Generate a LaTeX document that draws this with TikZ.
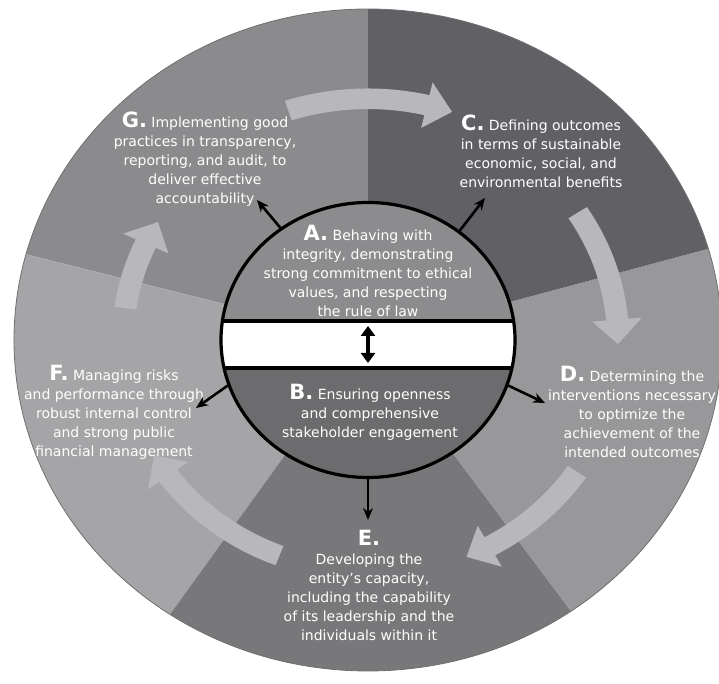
\documentclass[tikz,border=0pt]{standalone}
\usepackage{fontspec}
\setmainfont{DejaVu Sans}
\usepackage{tikz}
\usetikzlibrary{
	positioning,
	arrows.meta,
	shapes.geometric,
	calc
}
\definecolor{RingG}{RGB}{139,139,141}
\definecolor{RingC}{RGB}{97,97,101}
\definecolor{RingD}{RGB}{152,152,154}
\definecolor{RingE}{RGB}{120,120,123}
\definecolor{RingF}{RGB}{165,165,167}
\definecolor{CoreA}{RGB}{140,140,142}
\definecolor{CoreB}{RGB}{108,108,110}
\definecolor{ArrowGrey}{RGB}{184,184,186}
\definecolor{RimGrey}{RGB}{110,110,112}

\newcommand{\bigmark}[1]{{\fontsize{21}{19}\selectfont\bfseries #1.}}

\tikzset{
	blurb/.style={
		text=white,
		align=center,
		inner sep=0pt,
		font=\fontsize{14}{19}\selectfont
	},
	spoke/.style={
		-{Stealth[length=12pt,width=10pt]},
		line width=2.6pt,
		black
	},
	flowarrow/.style={
		fill=ArrowGrey
	}
}

\begin{document}
\begin{tikzpicture}[x=1pt,y=1pt]
				
				\useasboundingbox (0,0) rectangle (719,684);
				
				% outer ring, one shade per principle
				\begin{scope}[shift={(368,344)},yscale=0.935]
				\fill[RingG] (0,0) -- (90:354) arc[start angle=90,end angle=165,radius=354] -- cycle;
				\fill[RingF] (0,0) -- (165:354) arc[start angle=165,end angle=236,radius=354] -- cycle;
				\fill[RingE] (0,0) -- (236:354) arc[start angle=236,end angle=305,radius=354] -- cycle;
				\fill[RingD] (0,0) -- (-55:354) arc[start angle=-55,end angle=16,radius=354] -- cycle;
				\fill[RingC] (0,0) -- (16:354) arc[start angle=16,end angle=90,radius=354] -- cycle;
				\draw[RimGrey,line width=0.8pt] (0,0) circle[radius=354];
				
				% curved flow arrows, clockwise
				\fill[flowarrow] (108:269) arc[start angle=108,end angle=76.8,radius=269]
				-- (76.8:283) -- (71:258) -- (76.8:233)
				-- (76.8:247) arc[start angle=76.8,end angle=108,radius=247] -- cycle;
				\fill[flowarrow] (33:261) arc[start angle=33,end angle=5,radius=261]
				-- (5:275) -- (-1:250) -- (5:225)
				-- (5:239) arc[start angle=5,end angle=33,radius=239] -- cycle;
				\fill[flowarrow] (-34:263) arc[start angle=-34,end angle=-61.1,radius=263]
				-- (-61.1:277) -- (-67:252) -- (-61.1:227)
				-- (-61.1:241) arc[start angle=-61.1,end angle=-34,radius=241] -- cycle;
				\fill[flowarrow] (-111:258) arc[start angle=-111,end angle=-144,radius=258]
				-- (-144:272) -- (-150:247) -- (-144:222)
				-- (-144:236) arc[start angle=-144,end angle=-111,radius=236] -- cycle;
				\fill[flowarrow] (172:256) arc[start angle=172,end angle=155.1,radius=256]
				-- (155.1:270) -- (149:245) -- (155.1:220)
				-- (155.1:234) arc[start angle=155.1,end angle=172,radius=234] -- cycle;
				\end{scope}
				
				% inner disc with its white band
				\begin{scope}
				\clip (368,344) ellipse[x radius=147,y radius=137.5];
				\fill[CoreA] (221,344) rectangle (515,482);
				\fill[CoreB] (221,344) rectangle (515,206);
				\fill[white] (221,316) rectangle (515,363);
				\draw[line width=4pt] (221,363) -- (515,363);
				\draw[line width=4pt] (221,316) -- (515,316);
				\end{scope}
				
				\node[
				ellipse,
				draw=black,
				line width=3.2pt,
				inner sep=0pt,
				minimum width=294,
				minimum height=275
				] (core) at (368,344) {};
				
				\node[blurb] (A) at (368,413) {\bigmark{A} Behaving with\\integrity, demonstrating\\strong commitment to ethical\\values, and respecting\\the rule of law};
				
				\node[blurb] (B) at (370,272) {\bigmark{B} Ensuring openness\\and comprehensive\\stakeholder engagement};
				
				\node[blurb] (G) at (205,525) {\bigmark{G} Implementing good\\practices in transparency,\\reporting, and audit, to\\deliver effective\\accountability};
				
				\node[blurb] (C) at (541,533) {\bigmark{C} Defining outcomes\\in terms of sustainable\\economic, social, and\\environmental benefits};
				
				\node[blurb] (D) at (632,272) {\bigmark{D} Determining the\\interventions necessary\\to optimize the\\achievement of the\\intended outcomes};
				
				\node[blurb] (E) at (369,99) {\bigmark{E}\\Developing the\\entity's capacity,\\including the capability\\of its leadership and the\\individuals within it};
				
				\node[blurb] (F) at (114,272) {\bigmark{F} Managing risks\\and performance through\\robust internal control\\and strong public\\financial management};
				
				% arrow tips
				\coordinate (gtip) at (257,484);
				\coordinate (ctip) at (485,486);
				\coordinate (dtip) at (545,281);
				\coordinate (etip) at (368,164);
				\coordinate (ftip) at (196,276);
				\coordinate (bandtop) at (368,358);
				\coordinate (bandbot) at (368,321);
				
				\draw[spoke] (core.128) -- (gtip);
				\draw[spoke] (core.50) -- (ctip);
				\draw[spoke] (core.-18.6) -- (dtip);
				\draw[spoke] (core.south) -- (etip);
				\draw[spoke] (core.198.6) -- (ftip);
				
				\draw[
				{Triangle[length=10pt,width=14pt]}-{Triangle[length=10pt,width=14pt]},
				line width=4.5pt
				] (bandtop) -- (bandbot);
				
\end{tikzpicture}
\end{document}
